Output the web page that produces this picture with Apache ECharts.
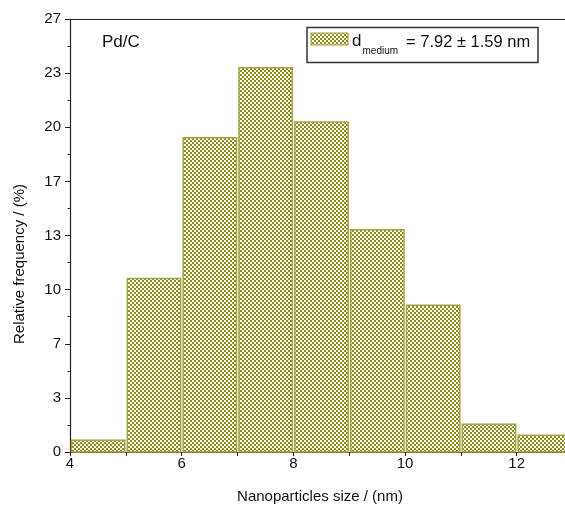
<!DOCTYPE html>
<html>
<head>
<meta charset="utf-8">
<script src="https://cdn.jsdelivr.net/npm/echarts@6/dist/echarts.min.js"></script>
<style>
html,body{margin:0;padding:0;background:#fff;}
#chart{width:565px;height:511px;}
</style>
</head>
<body>
<div id="chart"></div>
<script>
// Data
const binStart = [4, 5, 6, 7, 8, 9, 10, 11, 12];
const binEnd = [5, 6, 7, 8, 9, 10, 11, 12, 13];
const frequency = [0.72, 10.68, 19.35, 23.66, 20.33, 13.68, 9.04, 1.71, 1.03];
const yMax = 80 / 3;
const yStep = 10 / 3;

const FONT = "'Liberation Sans', Arial, sans-serif";

// pattern tile
const tile = document.createElement('canvas');
tile.width = 4; tile.height = 4;
const tc = tile.getContext('2d');
tc.fillStyle = '#8e8e18';
tc.fillRect(0, 0, 4, 4);
tc.fillStyle = '#ffffff';
tc.fillRect(0, 0, 2, 2);
tc.fillRect(2, 2, 2, 2);
const pattern = { image: tile, repeat: 'repeat' };

const chart = echarts.init(document.getElementById('chart'), null, { renderer: 'canvas' });

const seriesData = binStart.map((s, i) => [s, binEnd[i], frequency[i]]);

const option = {
  animation: false,
  backgroundColor: '#fff',
  grid: { left: 70, top: 19, width: 502.5, height: 433, containLabel: false, outerBoundsMode: 'none' },
  xAxis: [{
    type: 'value', min: 4, max: 13, interval: 2,
    axisLine: { show: true, onZero: false, lineStyle: { color: '#222', width: 1.2 } },
    axisTick: { show: true, length: 4, lineStyle: { color: '#222' } },
    minorTick: { show: true, splitNumber: 2, length: 4, lineStyle: { color: '#222' } },
    splitLine: { show: false },
    axisLabel: { fontFamily: FONT, fontSize: 15, color: '#111', margin: 4, showMaxLabel: false },
  }, {
    type: 'value', min: 4, max: 13, interval: 2, position: 'top',
    axisLine: { show: true, onZero: false, lineStyle: { color: '#222', width: 1.2 } },
    axisTick: { show: false }, axisLabel: { show: false }, splitLine: { show: false }
  }],
  yAxis: [{
    type: 'value', min: 0, max: yMax, interval: yStep,
    axisLine: { show: true, lineStyle: { color: '#222', width: 1.2 } },
    axisTick: { show: true, length: 5, lineStyle: { color: '#222' } },
    minorTick: { show: true, splitNumber: 2, length: 2.5, lineStyle: { color: '#222' } },
    splitLine: { show: false },
    axisLabel: { fontFamily: FONT, fontSize: 15, color: '#111', margin: 9,
      showMaxLabel: true, showMinLabel: true,
      formatter: v => String(Math.round(v)) }
  }],
  series: [{
    type: 'custom',
    clip: false,
    data: seriesData,
    renderItem: function (params, api) {
      const x0 = api.value(0), x1 = api.value(1), y = api.value(2);
      const p0 = api.coord([x0, y]);
      const p1 = api.coord([x1, 0]);
      return {
        type: 'rect',
        shape: { x: p0[0] + 1.5, y: p0[1], width: p1[0] - p0[0] - 2.5, height: p1[1] - p0[1] },
        style: { fill: pattern, stroke: '#a2a247', lineWidth: 1.5 }
      };
    }
  }],
  graphic: [
    { type: 'text', x: 102, y: 42, style: { text: 'Pd/C', font: "17px " + FONT, fill: '#111', verticalAlign: 'middle' } },
    { type: 'rect', shape: { x: 307, y: 27.5, width: 231, height: 35 }, style: { fill: '#fff', stroke: '#333', lineWidth: 1.5 }, z: 10 },
    { type: 'rect', shape: { x: 311, y: 33, width: 37, height: 12 }, style: { fill: pattern, stroke: '#a2a247', lineWidth: 1.2 }, z: 11 },
    { type: 'text', x: 352, y: 41, style: { text: 'd', font: "17px " + FONT, fill: '#111', verticalAlign: 'middle' }, z: 11 },
    { type: 'text', x: 362.5, y: 51, style: { text: 'medium', font: "10px " + FONT, fill: '#111', verticalAlign: 'middle' }, z: 11 },
    { type: 'text', x: 406, y: 42, style: { text: '= 7.92 \u00b1 1.59 nm', font: "16.5px " + FONT, fill: '#111', verticalAlign: 'middle' }, z: 11 },
    { type: 'text', x: 320, y: 497, style: { text: 'Nanoparticles size / (nm)', font: "15px " + FONT, fill: '#111', align: 'center', verticalAlign: 'middle' } },
    { type: 'text', x: 20, y: 264, rotation: Math.PI / 2, style: { text: 'Relative frequency / (%)', font: "15px " + FONT, fill: '#111', align: 'center', verticalAlign: 'middle' } }
  ]
};
chart.setOption(option);
</script>
</body>
</html>
